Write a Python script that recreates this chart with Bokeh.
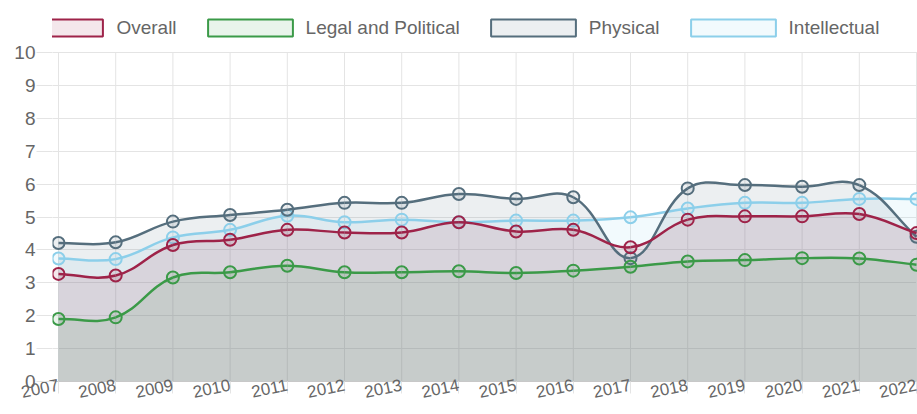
import numpy as np
from bokeh.plotting import figure
from bokeh.models import Range1d, FixedTicker, Legend, LegendItem
from bokeh.embed import file_html
from bokeh.resources import INLINE

# ---------------- data ----------------
years = list(range(2007, 2023))
series_names = ["Overall", "Legal and Political", "Physical", "Intellectual"]
overall = [3.27, 3.22, 4.15, 4.31, 4.61, 4.53, 4.53, 4.84, 4.56, 4.61, 4.08, 4.92, 5.02, 5.02, 5.09, 4.51]
legal = [1.90, 1.95, 3.16, 3.32, 3.52, 3.32, 3.32, 3.35, 3.30, 3.37, 3.49, 3.65, 3.69, 3.75, 3.74, 3.55]
physical = [4.21, 4.23, 4.86, 5.06, 5.22, 5.43, 5.43, 5.70, 5.55, 5.60, 3.75, 5.87, 5.97, 5.92, 5.97, 4.40]
intellectual = [3.74, 3.72, 4.38, 4.61, 5.04, 4.84, 4.92, 4.84, 4.89, 4.89, 4.99, 5.26, 5.43, 5.43, 5.55, 5.55]
y_ticks = [0, 1, 2, 3, 4, 5, 6, 7, 8, 9, 10]

colors = ["#9e2349", "#3b9a48", "#556e7d", "#8ccfea"]
FILL_ALPHA = 0.11
FONT = "Liberation Sans"
TXT = "#666666"

# ---------------- layout ----------------
W, H = 917, 414
LEFT, BOTTOM = 52, 33
TOP_SPACE = 52                      # room above the y=10 line for the legend
frame_w = W - LEFT
frame_h = H - BOTTOM
pad_l, pad_r = 6, 1
sx = (frame_w - pad_l - pad_r) / (years[-1] - years[0])
sy = (frame_h - TOP_SPACE) / (y_ticks[-1] - y_ticks[0])
x0 = years[0] - pad_l / sx
x1 = years[-1] + pad_r / sx
y_top = y_ticks[-1] + TOP_SPACE / sy

p = figure(width=W, height=H, x_range=Range1d(x0, x1), y_range=Range1d(0, y_top),
           output_backend="svg", toolbar_location=None, title=None,
           min_border_left=LEFT, min_border_right=0, min_border_top=0, min_border_bottom=BOTTOM)
p.outline_line_color = None
p.background_fill_color = "white"
p.border_fill_color = "white"

grid_col = "#e4e4e4"
p.xgrid.grid_line_color = None
p.ygrid.ticker = FixedTicker(ticks=y_ticks)
p.ygrid.grid_line_color = grid_col
# vertical grid lines only spanning the value axis (0..10)
p.segment(x0=years, y0=[y_ticks[0]] * len(years), x1=years, y1=[y_ticks[-1]] * len(years),
          line_color=grid_col, line_width=1, level="underlay")

xa = p.xaxis[0]
xa.ticker = FixedTicker(ticks=years)
xa.major_label_orientation = 0.2
xa.major_tick_out = 12
xa.major_tick_in = 0
xa.minor_tick_line_color = None
xa.major_tick_line_color = grid_col
xa.axis_line_color = "#c8c8c8"
xa.major_label_standoff = -9
xa.major_label_text_font = FONT
xa.major_label_text_font_size = "17px"
xa.major_label_text_color = TXT

ya = p.yaxis[0]
ya.ticker = FixedTicker(ticks=y_ticks)
ya.major_tick_out = 16
ya.major_tick_in = 0
ya.minor_tick_line_color = None
ya.major_tick_line_color = grid_col
ya.axis_line_color = None
ya.major_label_standoff = 1
ya.major_label_text_font = FONT
ya.major_label_text_font_size = "19px"
ya.major_label_text_color = TXT


# Chart.js style spline (tension 0.4), computed in pixel space
def control_points(xs, ys, t=0.4):
    px = np.array(xs, float) * sx
    py = np.array(ys, float) * sy
    n = len(px)
    cpp = np.zeros((n, 2))
    cpn = np.zeros((n, 2))
    for i in range(n):
        pi_ = max(i - 1, 0)
        ni = min(i + 1, n - 1)
        d01 = np.hypot(px[i] - px[pi_], py[i] - py[pi_])
        d12 = np.hypot(px[ni] - px[i], py[ni] - py[i])
        s = d01 + d12
        s01 = d01 / s if s else 0
        s12 = d12 / s if s else 0
        fa, fb = t * s01, t * s12
        dx, dy = px[ni] - px[pi_], py[ni] - py[pi_]
        cpp[i] = (px[i] - fa * dx, py[i] - fa * dy)
        cpn[i] = (px[i] + fb * dx, py[i] + fb * dy)
    cpp[:, 0] /= sx; cpn[:, 0] /= sx
    cpp[:, 1] /= sy; cpn[:, 1] /= sy
    return cpp, cpn


def curve(xs, ys, cpp, cpn, k=24):
    X, Y = [], []
    tt = np.linspace(0, 1, k)
    for i in range(len(xs) - 1):
        P0 = np.array([xs[i], ys[i]], float)
        P3 = np.array([xs[i + 1], ys[i + 1]], float)
        P1, P2 = cpn[i], cpp[i + 1]
        for j, t in enumerate(tt):
            if i > 0 and j == 0:
                continue
            q = ((1 - t) ** 3) * P0 + 3 * ((1 - t) ** 2) * t * P1 + 3 * (1 - t) * t * t * P2 + (t ** 3) * P3
            X.append(float(q[0])); Y.append(float(q[1]))
    return X, Y


data = [overall, legal, physical, intellectual]
order = [3, 2, 1, 0]  # Chart.js draws the last dataset first

# fills
for k in order:
    cpp, cpn = control_points(years, data[k])
    X, Y = curve(years, data[k], cpp, cpn)
    p.varea(x=X, y1=[0.0] * len(X), y2=Y, fill_color=colors[k], fill_alpha=FILL_ALPHA)

# lines + points
for k in order:
    ys = data[k]
    cpp, cpn = control_points(years, ys)
    p.bezier(x0=years[:-1], y0=ys[:-1], x1=years[1:], y1=ys[1:],
             cx0=[float(v) for v in cpn[:-1, 0]], cy0=[float(v) for v in cpn[:-1, 1]],
             cx1=[float(v) for v in cpp[1:, 0]], cy1=[float(v) for v in cpp[1:, 1]],
             line_color=colors[k], line_width=2.5)
    p.scatter(x=years, y=ys, size=12, marker="circle", line_color=colors[k], line_width=2,
              fill_color=colors[k], fill_alpha=FILL_ALPHA)

# legend swatches: hidden patches of each series (only their legend swatch shows)
items = []
for k, name in enumerate(series_names):
    r = p.patch(x=years, y=data[k], fill_color=colors[k], fill_alpha=FILL_ALPHA,
                line_color=colors[k], line_width=2, visible=False)
    items.append(LegendItem(label=name, renderers=[r]))

GW, GH = 106, 21          # drawn swatch is 80% of this (85 x 17)
inset = GW * 0.1
legend = Legend(items=items, orientation="horizontal",
                location=(18 - LEFT - inset, frame_h - 38.5),
                glyph_width=GW, glyph_height=GH, label_standoff=int(14 - inset), spacing=20,
                padding=0, margin=0, border_line_color=None, background_fill_alpha=0,
                inactive_fill_alpha=0,
                label_text_font=FONT, label_text_font_size="19px", label_text_color=TXT)
p.add_layout(legend)

open("out.html", "w").write(file_html(p, INLINE))
